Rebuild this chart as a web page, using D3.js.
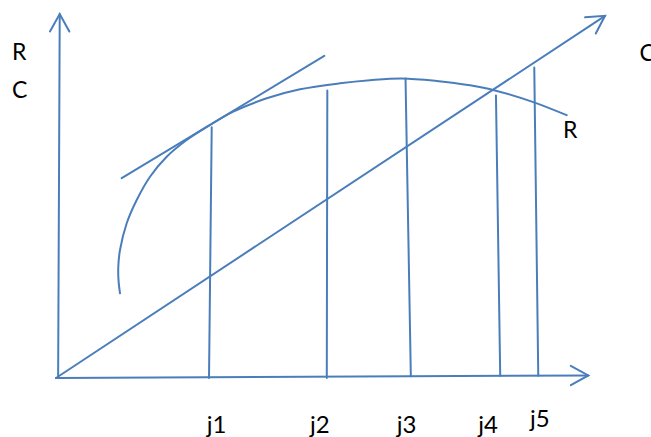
<!DOCTYPE html>
<html>
<head>
<meta charset="utf-8">
<script src="https://cdn.jsdelivr.net/npm/d3@7"></script>
<style>
  html, body { margin: 0; padding: 0; background: #fff; }
  svg { display: block; }
  text { font-family: Lato, "Open Sans", "DejaVu Sans", sans-serif; fill: #000; }
</style>
</head>
<body>
<svg id="chart" width="651" height="437"></svg>
<script>
// ---- Data (conceptual units: x 0..100 along the output axis, y 0..100 up the R/C axis) ----
// Revenue curve R (hand-drawn concave curve)
const revenueX = [12.03, 11.75, 11.71, 12.03, 13.29, 15.17, 17.67, 20.81, 24.57, 28.95, 33.33, 39.61, 45.86, 53.38, 59.0, 65.0, 71.56, 77.82, 82.52, 89.72, 96.0];
const revenueY = [23.27, 26.9, 30.58, 35.16, 42.50, 48.90, 55.30, 60.80, 65.38, 69.51, 73.16, 76.84, 79.31, 80.96, 81.8, 82.3, 81.6, 80.4, 79.0, 75.8, 72.2];

// Cost line C (from origin to arrow tip)
const costX = [0, 103.2];
const costY = [0, 99.5];

// Tangent to R at j1
const tangentX = [12.35, 50.43];
const tangentY = [54.9, 88.5];

// Vertical drop lines at j1..j5 (top and bottom ends)
const jLabels = ["j1", "j2", "j3", "j4", "j5"];
const jTopX = [29.27, 51.0, 65.7, 82.7, 89.9];
const jTopY = [68.87, 79.0, 82.3, 77.6, 85.3];
const jBotX = [28.76, 50.9, 66.7, 83.5, 90.65];
const jBotY = [0, 0, 0.5, 0.6, 0.6];

// Axes (hand-drawn, slightly slanted)
const yAxisX = [0.4, 0.7];
const yAxisY = [0, 100];
const xAxisX = [0, 100.06];
const xAxisY = [0, 0.7];

// Text annotations
const jLabelX = [28.33, 47.74, 64.04, 79.38, 89.1];
const jLabelY = [-15.2, -15.0, -15.2, -15.2, -13.4];
const axisTexts = ["R", "C", "C", "R"];
const axisTextX = [-8.27, -8.27, 109.7, 95.3];
const axisTextY = [87.36, 77.06, 87.2, 65.9];

// ---- Scales ----
const x = d3.scaleLinear().domain([0, 100]).range([56, 588]);
const y = d3.scaleLinear().domain([0, 100]).range([378, 14]);

const color = "#4A7EBB";
const svg = d3.select("#chart");

const line = d3.line().x(d => x(d[0])).y(d => y(d[1]));

function drawLine(xs, ys) {
  svg.append("path")
    .attr("d", line(xs.map((v, i) => [v, ys[i]])))
    .attr("fill", "none")
    .attr("stroke", color)
    .attr("stroke-width", 2)
    .attr("stroke-linecap", "round");
}

function drawArrowHead(xs, ys) {
  const tx = x(xs[1]), ty = y(ys[1]);
  const fx = x(xs[0]), fy = y(ys[0]);
  const ang = Math.atan2(fy - ty, fx - tx);
  const len = 20, half = 29 * Math.PI / 180;
  const p1 = [tx + len * Math.cos(ang + half), ty + len * Math.sin(ang + half)];
  const p2 = [tx + len * Math.cos(ang - half), ty + len * Math.sin(ang - half)];
  svg.append("path")
    .attr("d", `M${p1[0]},${p1[1]}L${tx},${ty}L${p2[0]},${p2[1]}`)
    .attr("fill", "none")
    .attr("stroke", color)
    .attr("stroke-width", 2)
    .attr("stroke-linecap", "round")
    .attr("stroke-linejoin", "miter");
}

// Axes
drawLine(yAxisX, yAxisY);
drawArrowHead(yAxisX, yAxisY);
drawLine(xAxisX, xAxisY);
drawArrowHead(xAxisX, xAxisY);

// Cost line
drawLine(costX, costY);
drawArrowHead(costX, costY);

// Tangent
drawLine(tangentX, tangentY);

// Revenue curve
svg.append("path")
  .attr("d", d3.line().x(d => x(d[0])).y(d => y(d[1])).curve(d3.curveCatmullRom.alpha(0.5))(revenueX.map((v, i) => [v, revenueY[i]])))
  .attr("fill", "none")
  .attr("stroke", color)
  .attr("stroke-width", 2)
  .attr("stroke-linecap", "round");

// Verticals
jLabels.forEach((lab, i) => {
  drawLine([jBotX[i], jTopX[i]], [jBotY[i], jTopY[i]]);
});

// Labels
svg.selectAll("text.j")
  .data(jLabels)
  .join("text")
  .attr("class", "j")
  .attr("x", (d, i) => x(jLabelX[i]))
  .attr("y", (d, i) => y(jLabelY[i]))
  .attr("font-size", 24)
  .text(d => d);

svg.selectAll("text.ax")
  .data(axisTexts)
  .join("text")
  .attr("class", "ax")
  .attr("x", (d, i) => x(axisTextX[i]))
  .attr("y", (d, i) => y(axisTextY[i]))
  .attr("font-size", 23)
  .text(d => d);
</script>
</body>
</html>
